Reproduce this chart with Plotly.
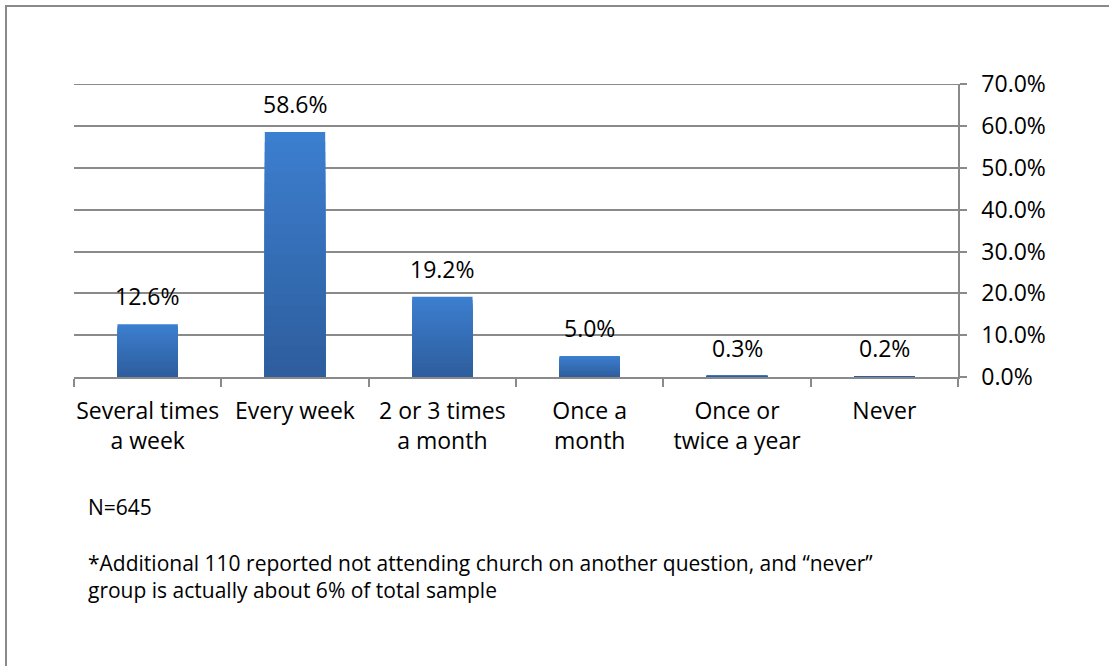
import plotly.graph_objects as go

categories = ["Several times<br>a week", "Every week", "2 or 3 times<br>a month",
              "Once a<br>month", "Once or<br>twice a year", "Never"]
values = [12.6, 58.6, 19.2, 5.0, 0.3, 0.2]
y_ticks = [0, 10, 20, 30, 40, 50, 60, 70]
y_tick_labels = ["0.0%", "10.0%", "20.0%", "30.0%", "40.0%", "50.0%", "60.0%", "70.0%"]
note_n = "N=645"
note_lines = ["*Additional 110 reported not attending church on another question, and \u201cnever\u201d",
              "group is actually about 6% of total sample"]

FONT = "Open Sans"
TOP = (0x3C, 0x7E, 0xCF)
BOT = (0x2E, 0x5E, 0x9E)
AX = 23
NOTE = 21
GRID = "#8a8a8a"

fig = go.Figure()
n_layers = 24
for k in range(n_layers):
    f = k / (n_layers - 1)
    col = tuple(round(TOP[i] + (BOT[i] - TOP[i]) * f) for i in range(3))
    frac = 1 - k / n_layers
    fig.add_trace(go.Bar(
        x=categories, y=[v * frac for v in values],
        marker=dict(color="rgb(%d,%d,%d)" % col, line=dict(width=0)),
        width=0.41, hoverinfo="skip", showlegend=False,
    ))

for c, v in zip(categories, values):
    fig.add_annotation(x=c, y=v, text="%.1f%%" % v, showarrow=False,
                       yanchor="bottom", yshift=10,
                       font=dict(family=FONT, size=AX, color="#000"))

fig.add_annotation(xref="paper", yref="paper", x=(86 - 74) / 884, y=(377 - 507) / 293,
                   text=note_n, showarrow=False, xanchor="left", yanchor="middle",
                   font=dict(family=FONT, size=NOTE, color="#000"))
fig.add_annotation(xref="paper", yref="paper", x=(86 - 74) / 884, y=(377 - 576) / 293,
                   text="<br>".join(note_lines), showarrow=False, xanchor="left", yanchor="middle",
                   align="left", font=dict(family=FONT, size=NOTE, color="#000"))

# top gridline (plotly drops gridlines on the plot edge)
fig.add_shape(type="line", xref="paper", yref="y", x0=0, x1=1, y0=y_ticks[-1], y1=y_ticks[-1],
              line=dict(color=GRID, width=1.5), layer="below")

# outer chart border
fig.add_shape(type="rect", xref="paper", yref="paper",
              x0=(6 - 74) / 884, x1=(1120 - 74) / 884,
              y0=(377 - 680) / 293, y1=(377 - 6) / 293,
              line=dict(color=GRID, width=2), fillcolor="rgba(0,0,0,0)", layer="below")

fig.update_layout(
    width=1109, height=666,
    margin=dict(l=74, r=151, t=84, b=289),
    barmode="overlay",
    plot_bgcolor="white", paper_bgcolor="white",
    font=dict(family=FONT, size=AX, color="#000"),
    xaxis=dict(showline=True, linecolor=GRID, linewidth=1.5,
               ticks="outside", tickson="boundaries", ticklen=8, tickcolor=GRID, tickwidth=1.5,
               ticklabelstandoff=13, tickangle=0,
               showgrid=False, tickfont=dict(family=FONT, size=AX, color="#000")),
    yaxis=dict(side="right", range=[0, 70.05], tickvals=y_ticks, ticktext=y_tick_labels,
               showline=True, linecolor=GRID, linewidth=1.5,
               ticks="outside", ticklen=7, tickcolor=GRID, tickwidth=1.5,
               showgrid=True, gridcolor=GRID, gridwidth=1.5, zeroline=False,
               ticklabelstandoff=10,
               tickfont=dict(family=FONT, size=AX, color="#000")),
)

fig.write_html("out.html")
